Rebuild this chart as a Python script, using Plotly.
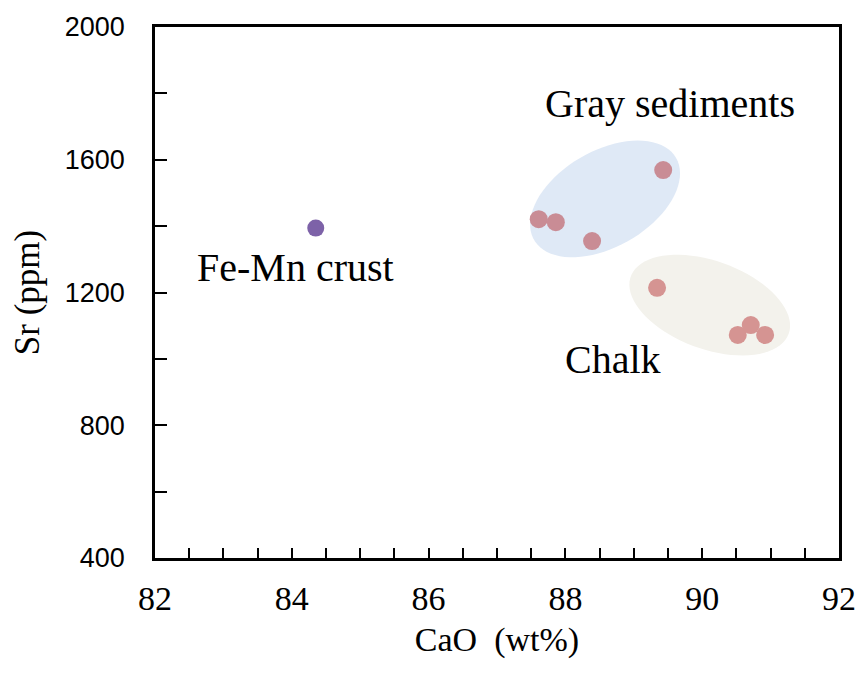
import numpy as np
import plotly.graph_objects as go

# ---- data ----
femn_cao = [84.35]
femn_sr = [1394]
gray_cao = [87.61, 87.86, 88.39, 89.43]
gray_sr = [1421, 1412, 1355, 1569]
chalk_cao = [89.34, 90.52, 90.71, 90.92]
chalk_sr = [1214, 1072, 1102, 1072]

x_range = [82, 92]
y_range = [400, 2000]
x_ticks = [82, 84, 86, 88, 90, 92]
y_ticks = [400, 800, 1200, 1600, 2000]

# ---- layout geometry (page has an 8px body margin) ----
W, H = 848, 659
ML, MR, MT, MB = 147, 17, 19, 109
pw = W - ML - MR
ph = H - MT - MB
sx = pw / (x_range[1] - x_range[0])   # px per data unit
sy = ph / (y_range[1] - y_range[0])


def ellipse_path(cx, cy, a_px, b_px, theta_deg, n=80):
    t = np.linspace(0, 2 * np.pi, n)
    th = np.radians(theta_deg)
    dx = a_px * np.cos(t) * np.cos(th) - b_px * np.sin(t) * np.sin(th)
    dy = a_px * np.cos(t) * np.sin(th) + b_px * np.sin(t) * np.cos(th)
    xs = cx + dx / sx
    ys = cy + dy / sy
    pts = [f"{x:.4f},{y:.4f}" for x, y in zip(xs, ys)]
    return "M " + " L ".join(pts) + " Z"


fig = go.Figure()

fig.add_shape(type="path", path=ellipse_path(88.58, 1482, 82, 48, 30),
              xref="x", yref="y", fillcolor="#dfe9f6", line=dict(width=0),
              layer="below")
fig.add_shape(type="path", path=ellipse_path(90.11, 1162, 84, 44, -20),
              xref="x", yref="y", fillcolor="#f3f2ec", line=dict(width=0),
              layer="below")

fig.add_trace(go.Scatter(x=femn_cao, y=femn_sr, mode="markers",
                         marker=dict(size=17, color="#7d62a8"), name="Fe-Mn crust"))
fig.add_trace(go.Scatter(x=gray_cao, y=gray_sr, mode="markers",
                         marker=dict(size=18, color="#c98c95"), name="Gray sediments"))
fig.add_trace(go.Scatter(x=chalk_cao, y=chalk_sr, mode="markers",
                         marker=dict(size=18, color="#d59492"), name="Chalk"))

serif = "Liberation Serif"
sans = "Liberation Sans"

fig.add_annotation(x=89.53, y=1771, text="Gray sediments", showarrow=False,
                   font=dict(family=serif, size=40, color="black"))
fig.add_annotation(x=84.06, y=1274, text="Fe-Mn crust", showarrow=False,
                   font=dict(family=serif, size=40, color="black"))
fig.add_annotation(x=88.70, y=997, text="Chalk", showarrow=False,
                   font=dict(family=serif, size=40, color="black"))

fig.update_layout(
    width=W, height=H,
    margin=dict(l=ML, r=MR, t=MT, b=MB, autoexpand=False),
    paper_bgcolor="white", plot_bgcolor="white",
    showlegend=False,
)
fig.update_xaxes(
    range=x_range, tickvals=x_ticks, ticktext=[str(v) for v in x_ticks],
    ticks="inside", ticklen=10, tickwidth=2, tickcolor="black",
    minor=dict(dtick=0.5, tick0=82, ticks="inside", ticklen=10, tickwidth=2, tickcolor="black"),
    showline=True, linewidth=2.5, linecolor="black", mirror=True,
    showgrid=False, zeroline=False, automargin=False,
    ticklabelstandoff=8,
    tickfont=dict(family=serif, size=34, color="black"),
    title=dict(text="CaO  (wt%)", font=dict(family=serif, size=34, color="black"), standoff=12),
)
fig.update_yaxes(
    range=y_range, tickvals=y_ticks, ticktext=[str(v) for v in y_ticks],
    ticks="inside", ticklen=12, tickwidth=2, tickcolor="black",
    minor=dict(dtick=200, tick0=400, ticks="inside", ticklen=12, tickwidth=2, tickcolor="black"),
    showline=True, linewidth=2.5, linecolor="black", mirror=True,
    showgrid=False, zeroline=False, automargin=False,
    ticklabelstandoff=22,
    tickfont=dict(family=sans, size=27, color="black"),
    title=dict(text="Sr (ppm)", font=dict(family=serif, size=35, color="black"), standoff=20),
)

fig.write_html("out.html")
